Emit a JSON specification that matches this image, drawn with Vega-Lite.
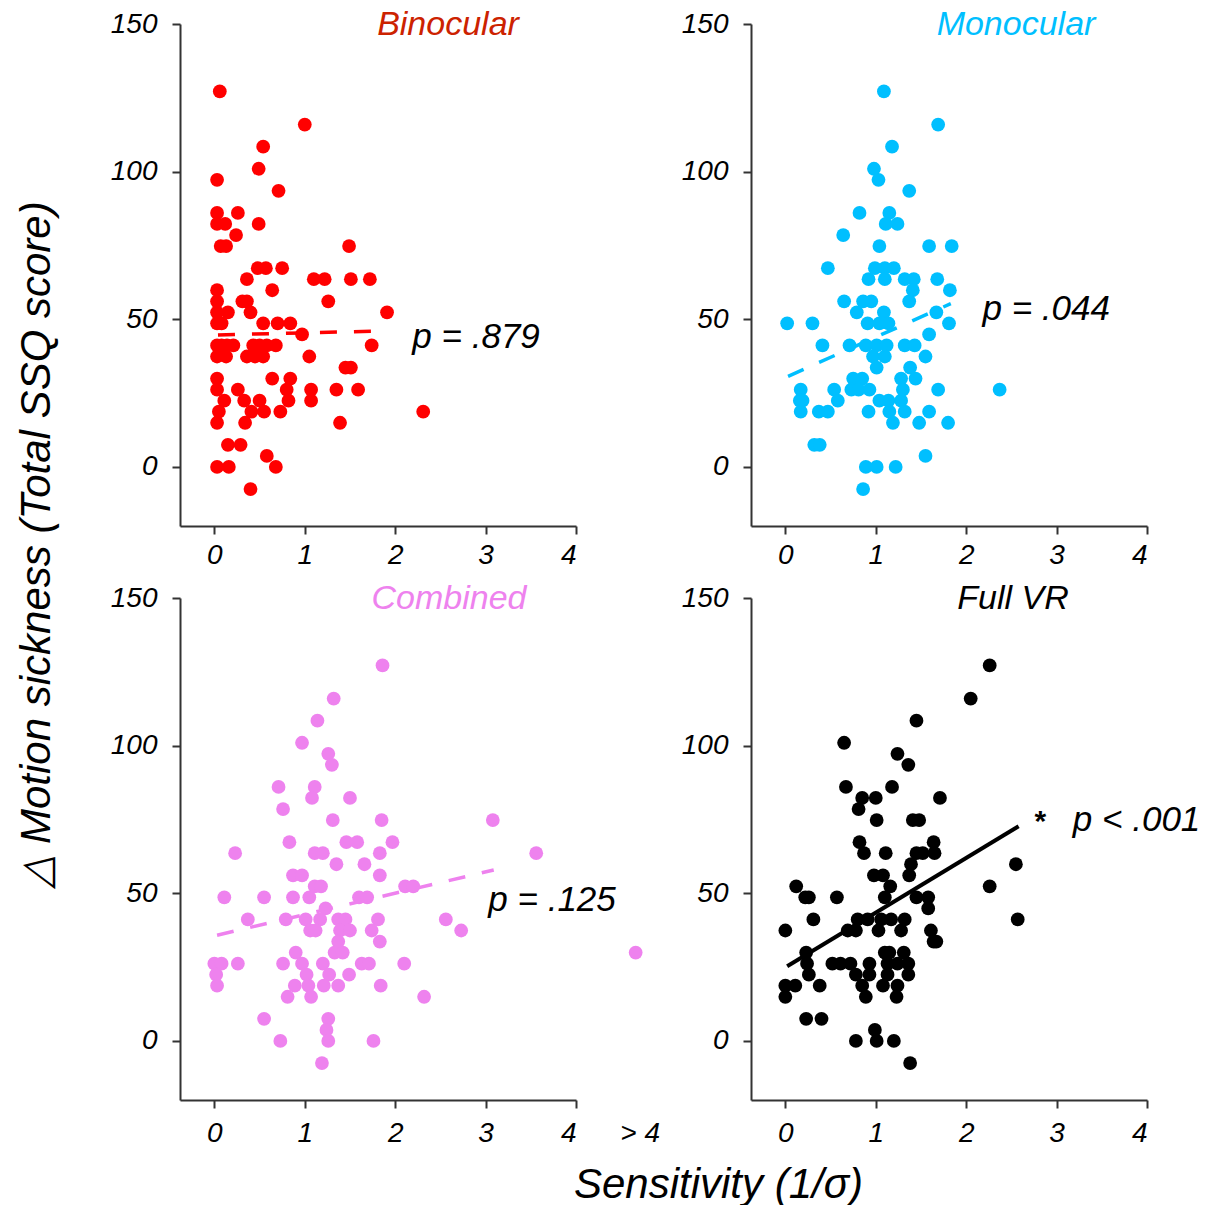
{
  "$schema": "https://vega.github.io/schema/vega-lite/v6.json",
  "padding": {"left": 14, "top": 8, "right": 0, "bottom": 0},
  "background": "white",
  "datasets": {
    "binocular": [
      {"x":0.06,"y":127.16},{"x":1.00,"y":115.94},{"x":0.54,"y":108.46},{"x":0.49,"y":100.98},{"x":0.03,"y":97.24},{"x":0.71,"y":93.5},
      {"x":0.03,"y":86.02},{"x":0.26,"y":86.02},{"x":0.03,"y":82.28},{"x":0.12,"y":82.28},{"x":0.49,"y":82.28},{"x":0.24,"y":78.54},
      {"x":0.07,"y":74.8},{"x":0.13,"y":74.8},{"x":1.49,"y":74.8},{"x":0.48,"y":67.32},{"x":0.57,"y":67.32},{"x":0.75,"y":67.32},
      {"x":0.36,"y":63.58},{"x":1.10,"y":63.58},{"x":1.22,"y":63.58},{"x":1.51,"y":63.58},{"x":1.72,"y":63.58},
      {"x":0.03,"y":59.84},{"x":0.64,"y":59.84},{"x":0.03,"y":56.1},{"x":0.31,"y":56.1},{"x":0.36,"y":56.1},{"x":1.26,"y":56.1},
      {"x":0.03,"y":52.36},{"x":0.15,"y":52.36},{"x":0.40,"y":52.36},{"x":1.91,"y":52.36},
      {"x":0.03,"y":48.62},{"x":0.08,"y":48.62},{"x":0.54,"y":48.62},{"x":0.70,"y":48.62},{"x":0.84,"y":48.62},{"x":0.97,"y":44.88},
      {"x":0.03,"y":41.14},{"x":0.08,"y":41.14},{"x":0.14,"y":41.14},{"x":0.21,"y":41.14},{"x":0.43,"y":41.14},{"x":0.50,"y":41.14},{"x":0.58,"y":41.14},{"x":0.68,"y":41.14},{"x":1.74,"y":41.14},
      {"x":0.03,"y":37.4},{"x":0.13,"y":37.4},{"x":0.36,"y":37.4},{"x":0.45,"y":37.4},{"x":0.54,"y":37.4},{"x":1.05,"y":37.4},
      {"x":1.45,"y":33.66},{"x":1.51,"y":33.66},{"x":0.03,"y":29.92},{"x":0.64,"y":29.92},{"x":0.84,"y":29.92},
      {"x":0.03,"y":26.18},{"x":0.26,"y":26.18},{"x":0.80,"y":26.18},{"x":1.07,"y":26.18},{"x":1.35,"y":26.18},{"x":1.59,"y":26.18},
      {"x":0.11,"y":22.44},{"x":0.33,"y":22.44},{"x":0.50,"y":22.44},{"x":0.82,"y":22.44},{"x":1.07,"y":22.44},
      {"x":0.05,"y":18.7},{"x":0.41,"y":18.7},{"x":0.55,"y":18.7},{"x":0.73,"y":18.7},{"x":2.31,"y":18.7},
      {"x":0.03,"y":14.96},{"x":0.34,"y":14.96},{"x":1.39,"y":14.96},{"x":0.15,"y":7.48},{"x":0.29,"y":7.48},{"x":0.58,"y":3.74},
      {"x":0.03,"y":0},{"x":0.16,"y":0},{"x":0.68,"y":0},{"x":0.40,"y":-7.48}
    ],
    "monocular": [
      {"x":1.09,"y":127.16},{"x":1.69,"y":115.94},{"x":1.18,"y":108.46},{"x":0.98,"y":100.98},{"x":1.03,"y":97.24},{"x":1.37,"y":93.5},
      {"x":0.82,"y":86.02},{"x":1.15,"y":86.02},{"x":1.11,"y":82.28},{"x":1.24,"y":82.28},{"x":0.64,"y":78.54},
      {"x":1.04,"y":74.8},{"x":1.59,"y":74.8},{"x":1.84,"y":74.8},{"x":0.47,"y":67.32},{"x":0.99,"y":67.32},{"x":1.10,"y":67.32},{"x":1.20,"y":67.32},
      {"x":0.92,"y":63.58},{"x":1.10,"y":63.58},{"x":1.32,"y":63.58},{"x":1.42,"y":63.58},{"x":1.68,"y":63.58},
      {"x":1.41,"y":59.84},{"x":1.82,"y":59.84},{"x":0.65,"y":56.1},{"x":0.86,"y":56.1},{"x":0.95,"y":56.1},{"x":1.37,"y":56.1},
      {"x":0.79,"y":52.36},{"x":1.09,"y":52.36},{"x":1.67,"y":52.36},
      {"x":0.02,"y":48.62},{"x":0.30,"y":48.62},{"x":0.91,"y":48.62},{"x":1.04,"y":48.62},{"x":1.14,"y":48.62},{"x":1.81,"y":48.62},{"x":1.59,"y":44.88},
      {"x":0.41,"y":41.14},{"x":0.71,"y":41.14},{"x":0.89,"y":41.14},{"x":1.01,"y":41.14},{"x":1.12,"y":41.14},{"x":1.32,"y":41.14},{"x":1.43,"y":41.14},
      {"x":0.97,"y":37.4},{"x":1.10,"y":37.4},{"x":1.55,"y":37.4},{"x":1.01,"y":33.66},{"x":1.38,"y":33.66},
      {"x":0.75,"y":29.92},{"x":0.85,"y":29.92},{"x":1.28,"y":29.92},{"x":1.44,"y":29.92},
      {"x":0.17,"y":26.18},{"x":0.54,"y":26.18},{"x":0.73,"y":26.18},{"x":0.81,"y":26.18},{"x":0.93,"y":26.18},{"x":1.30,"y":26.18},{"x":1.69,"y":26.18},{"x":2.37,"y":26.18},
      {"x":0.16,"y":22.44},{"x":0.19,"y":22.44},{"x":0.58,"y":22.44},{"x":1.04,"y":22.44},{"x":1.14,"y":22.44},{"x":1.28,"y":22.44},
      {"x":0.17,"y":18.7},{"x":0.37,"y":18.7},{"x":0.47,"y":18.7},{"x":0.92,"y":18.7},{"x":1.15,"y":18.7},{"x":1.32,"y":18.7},{"x":1.59,"y":18.7},
      {"x":1.19,"y":14.96},{"x":1.48,"y":14.96},{"x":1.80,"y":14.96},{"x":0.32,"y":7.48},{"x":0.38,"y":7.48},{"x":1.55,"y":3.74},
      {"x":0.89,"y":0},{"x":1.01,"y":0},{"x":1.22,"y":0},{"x":0.86,"y":-7.48}
    ],
    "combined": [
      {"x":1.86,"y":127.16},{"x":1.32,"y":115.94},{"x":1.14,"y":108.46},{"x":0.97,"y":100.98},{"x":1.26,"y":97.24},{"x":1.30,"y":93.5},
      {"x":0.71,"y":86.02},{"x":1.11,"y":86.02},{"x":1.08,"y":82.28},{"x":1.50,"y":82.28},{"x":0.76,"y":78.54},
      {"x":1.31,"y":74.8},{"x":1.85,"y":74.8},{"x":3.08,"y":74.8},{"x":0.83,"y":67.32},{"x":1.46,"y":67.32},{"x":1.58,"y":67.32},{"x":1.97,"y":67.32},
      {"x":0.23,"y":63.58},{"x":1.11,"y":63.58},{"x":1.20,"y":63.58},{"x":1.83,"y":63.58},{"x":3.56,"y":63.58},
      {"x":1.35,"y":59.84},{"x":1.66,"y":59.84},{"x":0.87,"y":56.1},{"x":0.97,"y":56.1},{"x":1.83,"y":56.1},
      {"x":1.11,"y":52.36},{"x":1.18,"y":52.36},{"x":2.11,"y":52.36},{"x":2.20,"y":52.36},
      {"x":0.11,"y":48.62},{"x":0.55,"y":48.62},{"x":0.87,"y":48.62},{"x":1.05,"y":48.62},{"x":1.60,"y":48.62},{"x":1.69,"y":48.62},{"x":1.23,"y":44.88},
      {"x":0.37,"y":41.14},{"x":0.79,"y":41.14},{"x":1.01,"y":41.14},{"x":1.17,"y":41.14},{"x":1.37,"y":41.14},{"x":1.45,"y":41.14},{"x":1.81,"y":41.14},{"x":2.56,"y":41.14},
      {"x":1.06,"y":37.4},{"x":1.12,"y":37.4},{"x":1.39,"y":37.4},{"x":1.50,"y":37.4},{"x":1.74,"y":37.4},{"x":2.73,"y":37.4},
      {"x":1.37,"y":33.66},{"x":1.83,"y":33.66},{"x":0.90,"y":29.92},{"x":1.33,"y":29.92},{"x":1.42,"y":29.92},{"x":4.66,"y":29.92},
      {"x":0.00,"y":26.18},{"x":0.08,"y":26.18},{"x":0.26,"y":26.18},{"x":0.76,"y":26.18},{"x":0.97,"y":26.18},{"x":1.20,"y":26.18},{"x":1.63,"y":26.18},{"x":1.71,"y":26.18},{"x":2.10,"y":26.18},
      {"x":0.02,"y":22.44},{"x":1.02,"y":22.44},{"x":1.27,"y":22.44},{"x":1.49,"y":22.44},
      {"x":0.03,"y":18.7},{"x":0.89,"y":18.7},{"x":1.04,"y":18.7},{"x":1.21,"y":18.7},{"x":1.37,"y":18.7},{"x":1.84,"y":18.7},
      {"x":0.81,"y":14.96},{"x":1.07,"y":14.96},{"x":2.32,"y":14.96},{"x":0.55,"y":7.48},{"x":1.26,"y":7.48},{"x":1.24,"y":3.74},
      {"x":0.73,"y":0},{"x":1.26,"y":0},{"x":1.76,"y":0},{"x":1.19,"y":-7.48}
    ],
    "fullvr": [
      {"x":2.26,"y":127.16},{"x":2.05,"y":115.94},{"x":1.45,"y":108.46},{"x":0.65,"y":100.98},{"x":1.24,"y":97.24},{"x":1.36,"y":93.5},
      {"x":0.67,"y":86.02},{"x":1.18,"y":86.02},{"x":0.85,"y":82.28},{"x":1.00,"y":82.28},{"x":1.71,"y":82.28},{"x":0.81,"y":78.54},
      {"x":1.01,"y":74.8},{"x":1.41,"y":74.8},{"x":1.48,"y":74.8},{"x":0.82,"y":67.32},{"x":1.64,"y":67.32},
      {"x":0.87,"y":63.58},{"x":1.11,"y":63.58},{"x":1.45,"y":63.58},{"x":1.52,"y":63.58},{"x":1.65,"y":63.58},
      {"x":1.39,"y":59.84},{"x":2.55,"y":59.84},{"x":0.98,"y":56.1},{"x":1.08,"y":56.1},{"x":1.37,"y":56.1},
      {"x":0.12,"y":52.36},{"x":1.16,"y":52.36},{"x":2.26,"y":52.36},
      {"x":0.22,"y":48.62},{"x":0.26,"y":48.62},{"x":0.57,"y":48.62},{"x":1.10,"y":48.62},{"x":1.45,"y":48.62},{"x":1.58,"y":48.62},{"x":1.58,"y":44.88},
      {"x":0.31,"y":41.14},{"x":0.80,"y":41.14},{"x":0.91,"y":41.14},{"x":1.06,"y":41.14},{"x":1.17,"y":41.14},{"x":1.32,"y":41.14},{"x":2.57,"y":41.14},
      {"x":0.00,"y":37.4},{"x":0.69,"y":37.4},{"x":0.78,"y":37.4},{"x":1.03,"y":37.4},{"x":1.28,"y":37.4},{"x":1.61,"y":37.4},
      {"x":1.64,"y":33.66},{"x":1.67,"y":33.66},{"x":0.23,"y":29.92},{"x":1.10,"y":29.92},{"x":1.15,"y":29.92},{"x":1.31,"y":29.92},
      {"x":0.24,"y":26.18},{"x":0.52,"y":26.18},{"x":0.61,"y":26.18},{"x":0.72,"y":26.18},{"x":0.93,"y":26.18},{"x":1.13,"y":26.18},{"x":1.24,"y":26.18},{"x":1.36,"y":26.18},
      {"x":0.26,"y":22.44},{"x":0.78,"y":22.44},{"x":0.93,"y":22.44},{"x":1.13,"y":22.44},{"x":1.36,"y":22.44},
      {"x":0.00,"y":18.7},{"x":0.11,"y":18.7},{"x":0.38,"y":18.7},{"x":0.85,"y":18.7},{"x":1.08,"y":18.7},{"x":1.24,"y":18.7},
      {"x":0.00,"y":14.96},{"x":0.89,"y":14.96},{"x":1.23,"y":14.96},{"x":0.23,"y":7.48},{"x":0.40,"y":7.48},{"x":0.99,"y":3.74},
      {"x":0.78,"y":0},{"x":1.01,"y":0},{"x":1.20,"y":0},{"x":1.38,"y":-7.48}
    ],
    "fit_binocular": [{"x":0.04,"y":44.7},{"x":1.79,"y":46.0}],
    "fit_monocular": [{"x":0.03,"y":30.7},{"x":1.83,"y":55.3}],
    "fit_combined": [{"x":0.03,"y":35.8},{"x":3.09,"y":57.9}],
    "fit_fullvr": [{"x":0.02,"y":25.3},{"x":2.58,"y":72.7}],
    "note_binocular": [{"x":2.19,"y":44,"label":"p = .879"}],
    "note_monocular": [{"x":2.18,"y":53.5,"label":"p = .044"}],
    "note_combined": [{"x":3.03,"y":47.7,"label":"p = .125"}],
    "note_combined_tick": [{"x":4.71,"y":-31.6,"label":"> 4"}],
    "note_fullvr_star": [{"x":2.82,"y":74,"label":"*"}],
    "note_fullvr": [{"x":3.18,"y":74.8,"label":"p < .001"}]
  },
  "columns": 2,
  "spacing": {"row": 72, "column": 175},
  "bounds": "flush",
  "concat": [
    {
      "width": 396, "height": 502,
      "title": {"text": "Binocular", "color": "#CC2200", "dx": 70},
      "encoding": {
        "x": {"field": "x", "type": "quantitative", "scale": {"domain": [-0.38, 4], "nice": false, "zero": false}, "axis": {"title": null, "values": [0,1,2,3,4], "labelPadding": 7}},
        "y": {"field": "y", "type": "quantitative", "scale": {"domain": [-20, 150], "nice": false, "zero": false},
              "axis": {"title": "△ Motion sickness (Total SSQ score)", "values": [0,50,100,150], "titleX": -144, "titleY": 520, "titleBaseline": "middle", "titleAngle": 270, "titleAlign": "center"}}
      },
      "layer": [
        {"data": {"name": "fit_binocular"}, "mark": {"type": "line", "color": "#FF0000", "strokeWidth": 3.5, "strokeDash": [17, 17]}},
        {"data": {"name": "binocular"}, "mark": {"type": "circle", "size": 190, "opacity": 1, "color": "#FF0000"}},
        {"data": {"name": "note_binocular"}, "mark": {"type": "text", "align": "left", "baseline": "middle", "font": "Liberation Sans", "fontStyle": "italic", "fontSize": 35, "color": "black"},
         "encoding": {"text": {"field": "label"}}}
      ]
    },
    {
      "width": 396, "height": 502,
      "title": {"text": "Monocular", "color": "#00BFFF", "dx": 67},
      "encoding": {
        "x": {"field": "x", "type": "quantitative", "scale": {"domain": [-0.38, 4], "nice": false, "zero": false}, "axis": {"title": null, "values": [0,1,2,3,4], "labelPadding": 7}},
        "y": {"field": "y", "type": "quantitative", "scale": {"domain": [-20, 150], "nice": false, "zero": false}, "axis": {"title": null, "values": [0,50,100,150]}}
      },
      "layer": [
        {"data": {"name": "fit_monocular"}, "mark": {"type": "line", "color": "#00BFFF", "strokeWidth": 3.5, "strokeDash": [17, 17]}},
        {"data": {"name": "monocular"}, "mark": {"type": "circle", "size": 190, "opacity": 1, "color": "#00BFFF"}},
        {"data": {"name": "note_monocular"}, "mark": {"type": "text", "align": "left", "baseline": "middle", "font": "Liberation Sans", "fontStyle": "italic", "fontSize": 35, "color": "black"},
         "encoding": {"text": {"field": "label"}}}
      ]
    },
    {
      "width": 396, "height": 502,
      "title": {"text": "Combined", "color": "#EE82EE", "dx": 71},
      "encoding": {
        "x": {"field": "x", "type": "quantitative", "scale": {"domain": [-0.38, 4], "nice": false, "zero": false},
              "axis": {"title": "Sensitivity (1/σ)", "values": [0,1,2,3,4], "labelPadding": 11, "titleX": 538, "titleY": 84, "titleBaseline": "middle", "titleAlign": "center"}},
        "y": {"field": "y", "type": "quantitative", "scale": {"domain": [-20, 150], "nice": false, "zero": false}, "axis": {"title": null, "values": [0,50,100,150]}}
      },
      "layer": [
        {"data": {"name": "fit_combined"}, "mark": {"type": "line", "color": "#EE82EE", "strokeWidth": 3.5, "strokeDash": [17, 17]}},
        {"data": {"name": "combined"}, "mark": {"type": "circle", "size": 190, "opacity": 1, "color": "#EE82EE"}},
        {"data": {"name": "note_combined"}, "mark": {"type": "text", "align": "left", "baseline": "middle", "font": "Liberation Sans", "fontStyle": "italic", "fontSize": 35, "color": "black"},
         "encoding": {"text": {"field": "label"}}},
        {"data": {"name": "note_combined_tick"}, "mark": {"type": "text", "align": "center", "baseline": "middle", "font": "Liberation Sans", "fontStyle": "italic", "fontSize": 28, "color": "black"},
         "encoding": {"text": {"field": "label"}}}
      ]
    },
    {
      "width": 396, "height": 502,
      "title": {"text": "Full VR", "color": "black", "dx": 64},
      "encoding": {
        "x": {"field": "x", "type": "quantitative", "scale": {"domain": [-0.38, 4], "nice": false, "zero": false}, "axis": {"title": null, "values": [0,1,2,3,4], "labelPadding": 11}},
        "y": {"field": "y", "type": "quantitative", "scale": {"domain": [-20, 150], "nice": false, "zero": false}, "axis": {"title": null, "values": [0,50,100,150]}}
      },
      "layer": [
        {"data": {"name": "fit_fullvr"}, "mark": {"type": "line", "color": "black", "strokeWidth": 4}},
        {"data": {"name": "fullvr"}, "mark": {"type": "circle", "size": 190, "opacity": 1, "color": "black"}},
        {"data": {"name": "note_fullvr_star"}, "mark": {"type": "text", "align": "center", "baseline": "middle", "font": "Liberation Sans", "fontWeight": "bold", "fontSize": 30, "color": "black"},
         "encoding": {"text": {"field": "label"}}},
        {"data": {"name": "note_fullvr"}, "mark": {"type": "text", "align": "left", "baseline": "middle", "font": "Liberation Sans", "fontStyle": "italic", "fontSize": 35, "color": "black"},
         "encoding": {"text": {"field": "label"}}}
      ]
    }
  ],
  "config": {
    "view": {"stroke": null},
    "axis": {
      "grid": false, "domainColor": "#333333", "domainWidth": 2, "tickColor": "#333333", "tickWidth": 2, "tickSize": 8,
      "labelFont": "Liberation Sans", "labelFontStyle": "italic", "labelFontSize": 28, "labelColor": "black",
      "titleFont": "Liberation Sans", "titleFontStyle": "italic", "titleFontWeight": "normal", "titleFontSize": 42, "titleColor": "black"
    },
    "axisY": {"labelPadding": 15},
    "title": {"font": "Liberation Sans", "fontStyle": "italic", "fontWeight": "normal", "fontSize": 34, "anchor": "middle", "baseline": "middle", "offset": -32}
  }
}
